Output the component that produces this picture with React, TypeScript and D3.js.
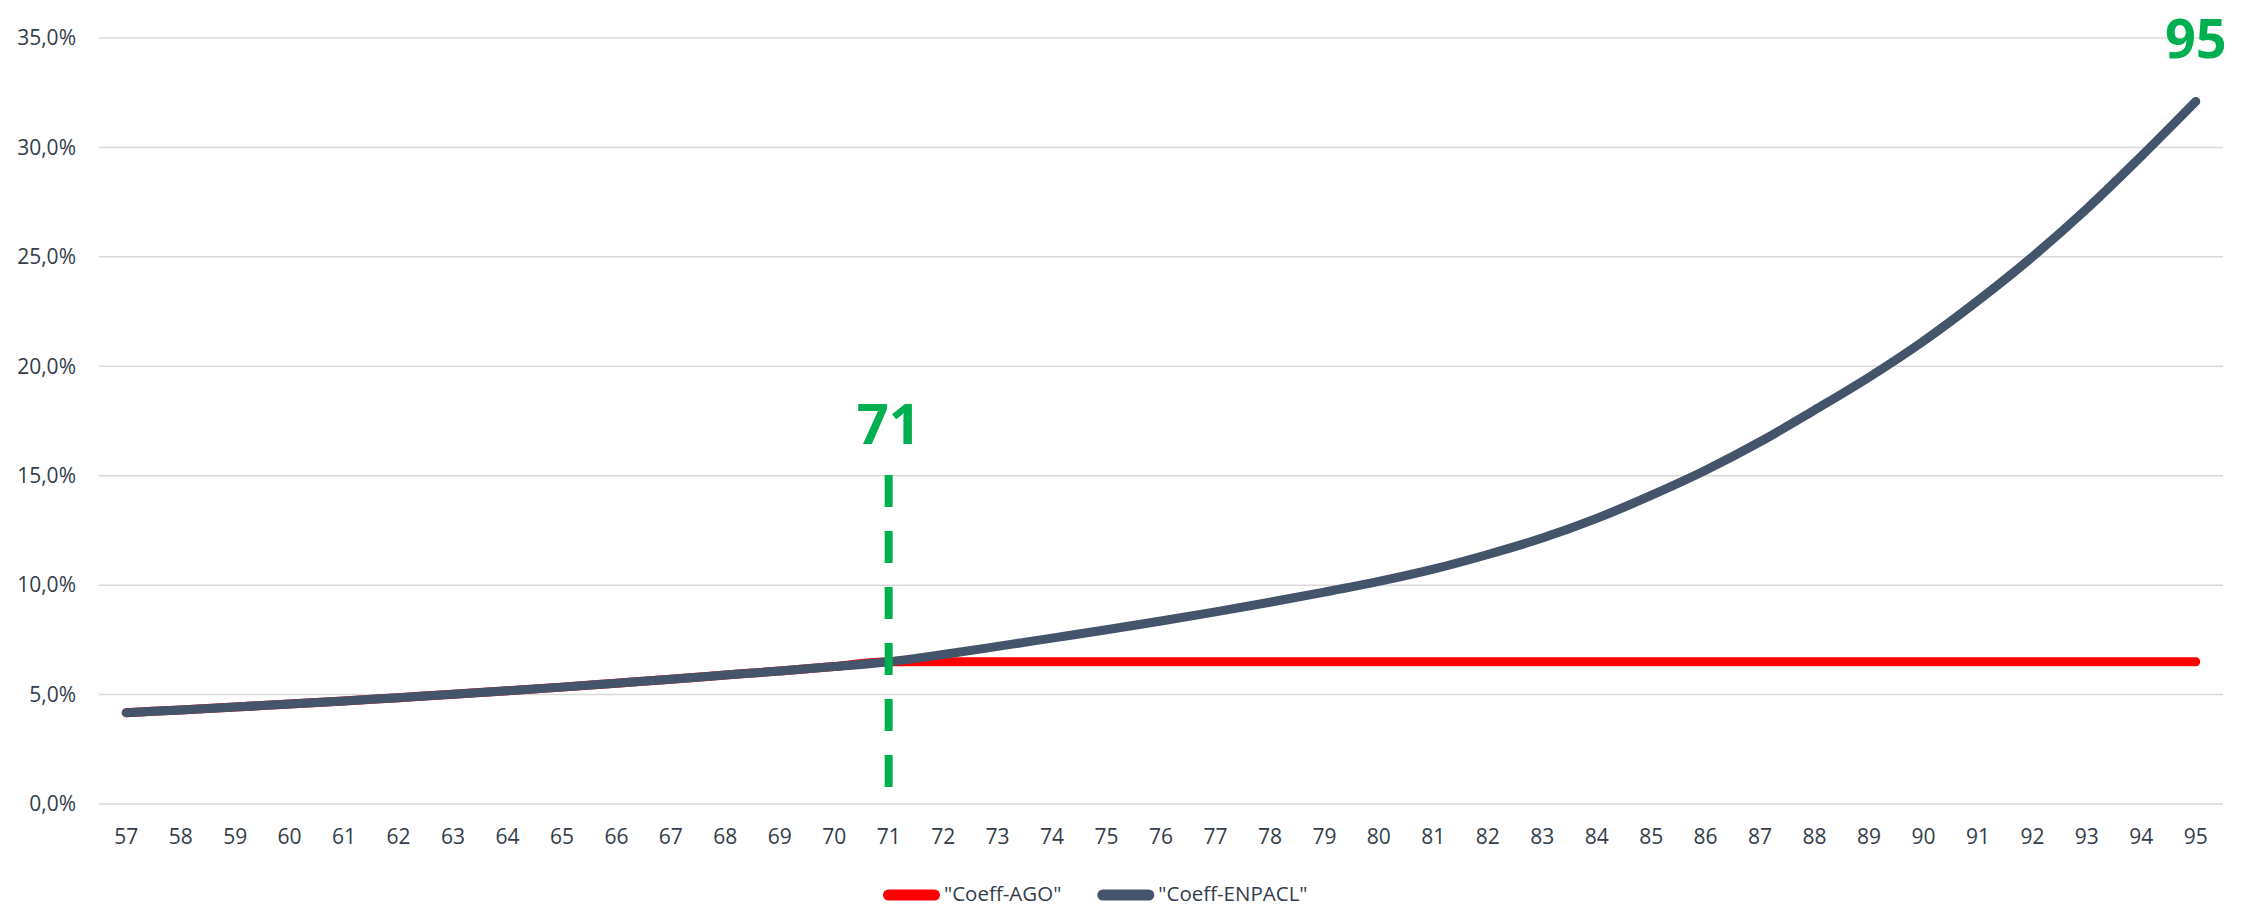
import { useEffect, useRef } from 'react';
import * as d3 from 'd3';

const ages = [57, 58, 59, 60, 61, 62, 63, 64, 65, 66, 67, 68, 69, 70, 71, 72, 73, 74, 75, 76,
  77, 78, 79, 80, 81, 82, 83, 84, 85, 86, 87, 88, 89, 90, 91, 92, 93, 94, 95];

// "Coeff-ENPACL" (fraction)
const enpacl = [0.0417, 0.0430, 0.0443, 0.0457, 0.0471, 0.0486, 0.0501, 0.0517, 0.0534, 0.0552,
  0.0570, 0.0589, 0.0608, 0.0628, 0.0650, 0.0683, 0.0720, 0.0758, 0.0796, 0.0836,
  0.0878, 0.0922, 0.0968, 0.1017, 0.1073, 0.1140, 0.1215, 0.1305, 0.1410, 0.1525,
  0.1655, 0.1800, 0.1950, 0.2115, 0.2300, 0.2500, 0.2720, 0.2960, 0.3210];

// "Coeff-AGO": follows ENPACL up to 71, then flat
const ago = [0.0417, 0.0430, 0.0443, 0.0457, 0.0471, 0.0486, 0.0501, 0.0517, 0.0534, 0.0552,
  0.0570, 0.0589, 0.0608, 0.0628, 0.0650, 0.0650, 0.0650, 0.0650, 0.0650, 0.0650,
  0.0650, 0.0650, 0.0650, 0.0650, 0.0650, 0.0650, 0.0650, 0.0650, 0.0650, 0.0650,
  0.0650, 0.0650, 0.0650, 0.0650, 0.0650, 0.0650, 0.0650, 0.0650, 0.0650];

const yTicks = [0, 0.05, 0.1, 0.15, 0.2, 0.25, 0.3, 0.35];
const markers = [71, 95];
const seriesNames = ['"Coeff-AGO"', '"Coeff-ENPACL"'];

const W = 2251;
const H = 908;
const FONT = '"Open Sans", "Noto Sans", sans-serif';
const TEXT = '#333d4a';
const RED = '#FF0000';
const GRAY = '#44546A';
const GREEN = '#00B050';

export default function App() {
  const svgRef = useRef<SVGSVGElement>(null);

  useEffect(() => {
    if (!svgRef.current) return;
    const svg = d3.select(svgRef.current);
    svg.selectAll('*').remove();

    const left = 99, right = 2223, top = 38, bottom = 804;

    const x = d3.scalePoint<number>().domain(ages).range([left, right]).padding(0.5);
    const y = d3.scaleLinear().domain([0, 0.35]).range([bottom, top]);
    const fmt = (v: number) => (v * 100).toFixed(1).replace('.', ',') + '%';

    // gridlines
    svg.append('g')
      .selectAll('line')
      .data(yTicks)
      .join('line')
      .attr('x1', left)
      .attr('x2', right)
      .attr('y1', d => y(d))
      .attr('y2', d => y(d))
      .attr('stroke', '#D9D9D9')
      .attr('stroke-width', 1.5);

    svg.append('g')
      .selectAll('text')
      .data(yTicks)
      .join('text')
      .attr('x', 76)
      .attr('y', d => y(d))
      .attr('dy', '0.35em')
      .attr('text-anchor', 'end')
      .attr('font-family', FONT)
      .attr('font-size', 21)
      .attr('fill', TEXT)
      .text(d => fmt(d));

    svg.append('g')
      .selectAll('text')
      .data(ages)
      .join('text')
      .attr('x', d => x(d)!)
      .attr('y', 844)
      .attr('text-anchor', 'middle')
      .attr('font-family', FONT)
      .attr('font-size', 21)
      .attr('fill', TEXT)
      .text(d => d);

    const line = d3.line<number>()
      .x((_, i) => x(ages[i])!)
      .y(d => y(d))
      .curve(d3.curveMonotoneX);

    svg.append('path')
      .attr('d', line(ago))
      .attr('fill', 'none')
      .attr('stroke', RED)
      .attr('stroke-width', 9)
      .attr('stroke-linecap', 'round')
      .attr('stroke-linejoin', 'round');

    svg.append('path')
      .attr('d', line(enpacl))
      .attr('fill', 'none')
      .attr('stroke', GRAY)
      .attr('stroke-width', 9)
      .attr('stroke-linecap', 'round')
      .attr('stroke-linejoin', 'round');

    // marker at 71: dashed vertical line + label
    svg.append('line')
      .attr('x1', x(markers[0])!)
      .attr('x2', x(markers[0])!)
      .attr('y1', 475)
      .attr('y2', 787)
      .attr('stroke', GREEN)
      .attr('stroke-width', 8)
      .attr('stroke-dasharray', '32,24');

    svg.append('text')
      .attr('x', x(markers[0])!)
      .attr('y', 444)
      .attr('text-anchor', 'middle')
      .attr('font-family', FONT)
      .attr('font-weight', 700)
      .attr('font-size', 56)
      .attr('fill', GREEN)
      .text(markers[0]);

    svg.append('text')
      .attr('x', x(markers[1])!)
      .attr('y', 58)
      .attr('text-anchor', 'middle')
      .attr('font-family', FONT)
      .attr('font-weight', 700)
      .attr('font-size', 54)
      .attr('fill', GREEN)
      .text(markers[1]);

    // legend
    const colors = [RED, GRAY];
    const lg = svg.append('g');
    let cx = 883;
    seriesNames.forEach((name, i) => {
      lg.append('line')
        .attr('x1', cx + 5.5)
        .attr('x2', cx + 51.5)
        .attr('y1', 895)
        .attr('y2', 895)
        .attr('stroke', colors[i])
        .attr('stroke-width', 11)
        .attr('stroke-linecap', 'round');
      const t = lg.append('text')
        .attr('x', cx + 61)
        .attr('y', 901)
        .attr('font-family', FONT)
        .attr('font-size', 20.5)
        .attr('fill', TEXT)
        .text(name);
      const w = (t.node() as SVGTextElement).getComputedTextLength();
      cx += 61 + w + 36;
    });
  }, []);

  return (
    <svg
      ref={svgRef}
      width={W}
      height={H}
      style={{ position: 'absolute', left: 0, top: 0, background: '#fff' }}
    />
  );
}
